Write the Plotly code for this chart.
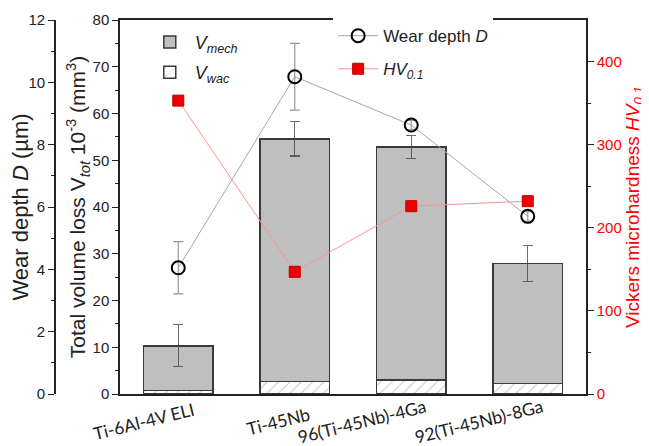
import plotly.graph_objects as go

categories = ["Ti-6Al-4V ELI", "Ti-45Nb", "96(Ti-45Nb)-4Ga", "92(Ti-45Nb)-8Ga"]
v_wac = [0.7, 2.7, 3.0, 2.2]
v_mech = [9.6, 51.9, 49.8, 25.7]
v_tot_err = [4.5, 3.7, 2.5, 3.9]
wear_depth = [4.05, 10.18, 8.63, 5.7]
wear_depth_err = [0.84, 1.07, 0.15, 0.15]
hv = [353, 147, 226, 232]
hv_err = [4, 4, 4, 4]

FONT = "Liberation Sans, Arial, sans-serif"
fig = go.Figure()

fig.add_trace(go.Bar(
    x=categories, y=v_wac, name="<i>V</i><sub><i>wac</i></sub>",
    marker=dict(color="white", line=dict(color="#3a3a3a", width=1.5),
                pattern=dict(shape="/", fgcolor="#8a8a8a", size=8, solidity=0.12)),
    width=0.6, legend="legend", yaxis="y", legendrank=2, legendgroup="wac",
))
fig.add_trace(go.Bar(
    x=categories, y=v_mech, name="<i>V</i><sub><i>mech</i></sub>",
    marker=dict(color="#bfbfbf", line=dict(color="#3a3a3a", width=1.5)),
    error_y=dict(type="data", array=v_tot_err, color="rgba(70,70,70,0.8)", thickness=1.2, width=5),
    width=0.6, legend="legend", yaxis="y", legendrank=1, legendgroup="mech",
))
fig.add_trace(go.Scatter(
    x=categories, y=wear_depth, name="Wear depth <i>D</i>", mode="lines+markers",
    line=dict(color="#a6a6a6", width=1),
    marker=dict(symbol="circle-open", size=13, color="black", line=dict(width=2, color="black")),
    error_y=dict(type="data", array=wear_depth_err, color="rgba(140,140,140,0.9)", thickness=1.2, width=5),
    yaxis="y3", legend="legend2", legendrank=1, legendgroup="d",
))
fig.add_trace(go.Scatter(
    x=categories, y=hv, name="<i>HV</i><sub><i>0.1</i></sub>", mode="lines+markers",
    line=dict(color="#ff9090", width=1),
    marker=dict(symbol="square", size=11, color="#ee0000", line=dict(width=1, color="#c00000")),
    error_y=dict(type="data", array=hv_err, color="#222", thickness=1, width=4),
    yaxis="y2", legend="legend2", legendrank=2, legendgroup="hv",
))

# category labels (rotated), placed through the x axis
for c in categories:
    fig.add_annotation(x=c, xref="x", y=0, yref="paper", text=c, showarrow=False,
                       textangle=-14, xanchor="right", yanchor="middle", xshift=20, yshift=-27,
                       font=dict(family="Lato, Open Sans, sans-serif", size=17.5, color="#222"))

tickfont = dict(family=FONT, size=15, color="#222")

fig.update_layout(
    width=641, height=438,
    margin=dict(l=2, r=63, t=12, b=52),
    paper_bgcolor="white", plot_bgcolor="white",
    barmode="stack", bargap=0.4,
    xaxis=dict(domain=[0.191, 1], showline=True, linecolor="#222", linewidth=1.5, mirror=True,
               ticks="", showticklabels=False, automargin=False, range=[-0.5, 3.5]),
    yaxis=dict(range=[0, 80], dtick=10, showline=True, linecolor="#222", linewidth=1.5,
               ticks="outside", ticklen=6, tickcolor="#222", showgrid=False, zeroline=False,
               minor=dict(ticks="outside", ticklen=3, dtick=5, tickcolor="#222", showgrid=False),
               tickfont=tickfont, automargin=False,
               title=dict(text="Total volume loss V<sub><i>tot</i></sub> 10<sup>-3</sup> (mm<sup>3</sup>)",
                          font=dict(family=FONT, size=21, color="#222"), standoff=1)),
    yaxis3=dict(range=[0, 12], dtick=2, overlaying="y", anchor="free", position=0.078, side="left",
                showline=True, linecolor="#222", linewidth=1.5, automargin=False,
                ticks="outside", ticklen=6, tickcolor="#222", showgrid=False, zeroline=False,
                minor=dict(ticks="outside", ticklen=3, dtick=1, tickcolor="#222", showgrid=False),
                tickfont=tickfont,
                title=dict(text="Wear depth <i>D</i> (µm)", font=dict(family=FONT, size=22, color="#222"),
                           standoff=2)),
    yaxis2=dict(range=[0, 450], tickvals=[0, 100, 200, 300, 400], overlaying="y", anchor="x", side="right",
                showline=True, linecolor="#222", linewidth=1.5, automargin=False,
                ticks="outside", ticklen=6, tickcolor="#222", showgrid=False, zeroline=False,
                minor=dict(ticks="outside", ticklen=3, tickvals=[50, 150, 250, 350], tickcolor="#222", showgrid=False),
                tickfont=dict(family=FONT, size=15, color="#ff0000"),
                title=dict(text="Vickers microhardness <i>HV</i><sub><i>0.1</i></sub>",
                           font=dict(family=FONT, size=19, color="#ff0000"), standoff=4)),
    legend=dict(x=0.234, y=0.99, xanchor="left", yanchor="top", bgcolor="white",
                font=dict(family=FONT, size=18, color="#222"), traceorder="grouped", tracegroupgap=4,
                itemwidth=40),
    legend2=dict(x=0.561, y=1.005, xanchor="left", yanchor="top", bgcolor="white",
                 font=dict(family=FONT, size=17, color="#222"), traceorder="grouped", tracegroupgap=8,
                 itemwidth=40),
)

fig.write_html("out.html")
